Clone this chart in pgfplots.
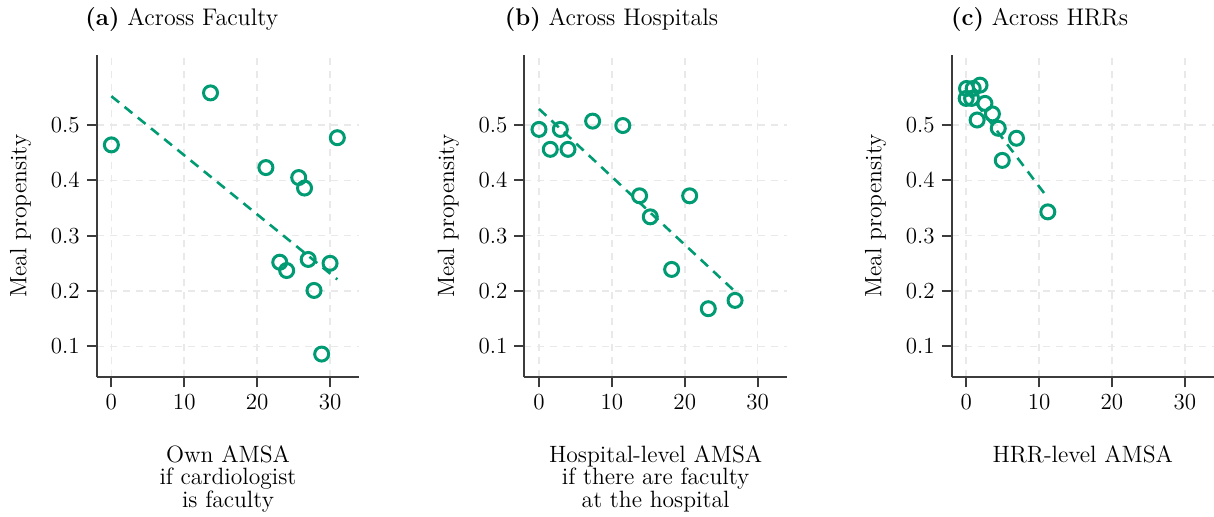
\documentclass[border=0pt]{standalone}
\usepackage{pgfplots}
\pgfplotsset{compat=1.18}

\definecolor{sgreen}{RGB}{0,155,115}
\definecolor{axisgray}{RGB}{60,60,60}
\definecolor{gridgray}{RGB}{233,233,233}

\pgfplotsset{
  amsa/.style={
    scale only axis, width=131.2pt, height=161.3pt,
    anchor=south west,
    xmin=-2, xmax=34, ymin=0.044, ymax=0.627,
    xtick={0,10,20,30}, ytick={0.1,0.2,0.3,0.4,0.5},
    axis x line*=bottom, axis y line*=left,
    axis line style={draw=axisgray, line width=1pt, -},
    tick align=outside, major tick length=5pt,
    tick style={draw=axisgray, line width=1pt},
    grid=major,
    major grid style={draw=gridgray, line width=0.8pt, dash pattern=on 3.5pt off 3pt},
    /pgf/number format/assume math mode=true,
    tick label style={font=\fontsize{11.5}{13}\selectfont},
    label style={font=\fontsize{11.8}{11.35}\selectfont},
    ylabel={Meal propensity},
    ylabel style={at={(axis description cs:-0.29,0.5)}, anchor=center},
    xlabel style={at={(axis description cs:0.5,0)}, anchor=north, yshift=-33.8pt,
      inner sep=0pt, align=center},
    title style={anchor=base, yshift=8.7pt, font=\fontsize{12}{14}\selectfont},
  },
  pts/.style={only marks, mark=o, mark size=3.5pt,
    mark options={draw=sgreen, line width=1.5pt}},
  fit/.style={sgreen, line width=1.3pt, dash pattern=on 5pt off 3.5pt},
}

\begin{document}
\begin{tikzpicture}
\useasboundingbox (0,0) rectangle (607pt,258pt);

% (a) faculty
\begin{axis}[amsa, at={(48.4pt,69.35pt)},
  title={\textbf{(a)} Across Faculty},
  title style={at={(axis description cs:0.324,1)}},
  xlabel={Own AMSA\\if cardiologist\\is faculty}]
  \addplot[pts] coordinates {
    (0,0.464) (13.6,0.558) (31.0,0.477) (21.2,0.423) (25.7,0.405) (26.5,0.386)
    (23.1,0.252) (24.05,0.237) (27.0,0.257) (30.0,0.250) (27.8,0.201) (28.85,0.086)};
  \addplot[fit] coordinates {(0,0.552) (31,0.221)};
\end{axis}

% (b) hospitals
\begin{axis}[amsa, at={(262.2pt,69.35pt)},
  title={\textbf{(b)} Across Hospitals},
  title style={at={(axis description cs:0.332,1)}},
  xlabel={Hospital-level AMSA\\if there are faculty\\at the hospital}]
  \addplot[pts] coordinates {
    (0,0.492) (1.55,0.456) (2.93,0.492) (3.98,0.456) (7.36,0.507) (11.5,0.499)
    (13.8,0.372) (15.27,0.334) (20.67,0.372) (18.2,0.239) (23.23,0.168) (26.9,0.183)};
  \addplot[fit] coordinates {(0,0.529) (26.9,0.199)};
\end{axis}

% (c) HRRs
\begin{axis}[amsa, at={(475.8pt,69.35pt)},
  title={\textbf{(c)} Across HRRs},
  title style={at={(axis description cs:0.335,1)}},
  xlabel={HRR-level AMSA}]
  \addplot[pts] coordinates {
    (0.05,0.566) (1.9,0.572) (0.96,0.566) (0,0.548) (0.74,0.548) (2.57,0.539)
    (3.6,0.520) (1.5,0.509) (4.4,0.494) (6.9,0.476) (4.95,0.436) (11.2,0.343)};
  \addplot[fit] coordinates {(0,0.563) (11.2,0.368)};
\end{axis}
\end{tikzpicture}
\end{document}
